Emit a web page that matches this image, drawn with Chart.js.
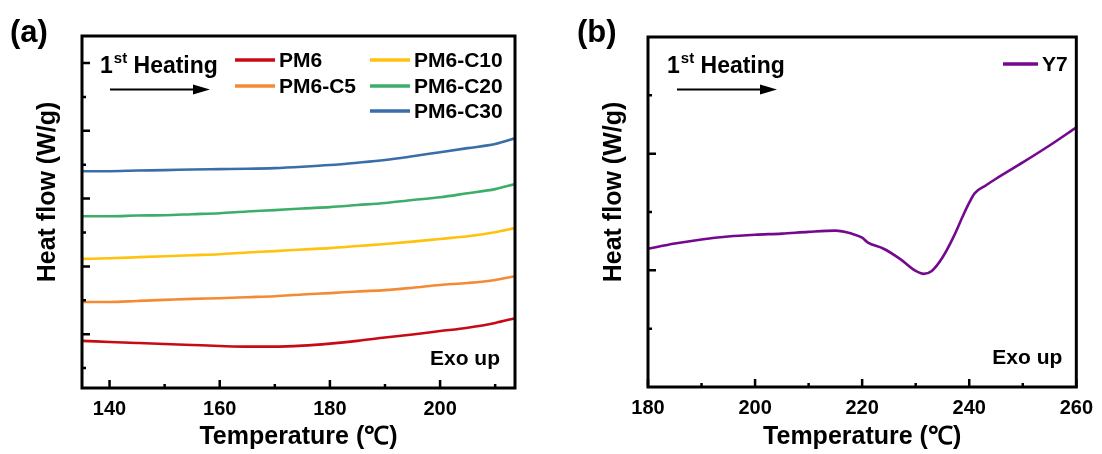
<!DOCTYPE html>
<html>
<head>
<meta charset="utf-8">
<script src="https://cdn.jsdelivr.net/npm/chart.js@4.4.0/dist/chart.umd.min.js"></script>
<style>
  html, body { margin: 0; padding: 0; background: #fff; }
  #wrap { position: relative; width: 1102px; height: 454px; }
  canvas { position: absolute; top: 0; }
</style>
</head>
<body>
<div id="wrap">
  <canvas id="chartA" width="551" height="454" style="left:0"></canvas>
  <canvas id="chartB" width="551" height="454" style="left:551px"></canvas>
</div>
<script>
// ---- data (a) : DSC 1st heating, curves offset vertically
const tempA = [135, 140, 145, 150, 155, 160, 165, 170, 175, 180, 185, 190, 195, 200, 205, 210, 213.6];
const pm6   = [0.80, 0.77, 0.74, 0.71, 0.68, 0.65, 0.63, 0.63, 0.66, 0.72, 0.80, 0.90, 0.99, 1.09, 1.19, 1.33, 1.47];
const pm6c5 = [1.95, 1.95, 1.98, 2.01, 2.04, 2.06, 2.09, 2.12, 2.17, 2.21, 2.26, 2.30, 2.37, 2.45, 2.51, 2.60, 2.71];
const pm6c10 = [3.22, 3.24, 3.27, 3.30, 3.33, 3.36, 3.41, 3.45, 3.50, 3.54, 3.60, 3.66, 3.73, 3.81, 3.89, 4.01, 4.13];
const pm6c20 = [4.48, 4.48, 4.50, 4.51, 4.54, 4.57, 4.62, 4.66, 4.71, 4.75, 4.81, 4.87, 4.96, 5.04, 5.16, 5.28, 5.43];
const pm6c30 = [5.81, 5.81, 5.83, 5.84, 5.86, 5.87, 5.88, 5.90, 5.94, 5.99, 6.06, 6.14, 6.25, 6.37, 6.49, 6.61, 6.78];
const xTicksA = [140, 160, 180, 200];
const xMinorA = [150, 170, 190, 210];
const yMajorA = [1, 3, 5, 7, 9];
const yMinorA = [0, 2, 4, 6, 8];

// ---- data (b) : Y7
const tempB = [180, 185, 190, 195, 200, 205, 210, 215, 218, 220, 221, 224, 227, 230, 231.5, 233, 235, 237, 239, 240, 241, 243, 245, 250, 255, 260];
const y7    = [1.37, 1.46, 1.53, 1.58, 1.61, 1.63, 1.66, 1.68, 1.63, 1.56, 1.48, 1.37, 1.20, 0.99, 0.94, 0.99, 1.22, 1.56, 1.97, 2.16, 2.32, 2.45, 2.57, 2.85, 3.14, 3.45];
const xTicksB = [180, 200, 220, 240, 260];
const xMinorB = [190, 210, 230, 250];
const yMajorB = [1, 3];
const yMinorB = [0, 2, 4];

const FONT = '"Liberation Sans", Arial, sans-serif';

function pts(xs, ys) {
  return xs.map((x, i) => ({ x: x, y: ys[i] }));
}

function line(label, xs, ys, color) {
  return {
    label: label,
    data: pts(xs, ys),
    borderColor: color,
    backgroundColor: color,
    borderWidth: 2.6,
    pointRadius: 0,
    cubicInterpolationMode: 'monotone',
    fill: false
  };
}

// draws the boxed frame, inward ticks, and the annotation texts
const deco = {
  id: 'deco',
  afterDraw(chart, args, o) {
    const ctx = chart.ctx;
    const a = chart.chartArea;
    const x = chart.scales.x, y = chart.scales.y;
    ctx.save();
    ctx.strokeStyle = '#000';
    ctx.fillStyle = '#000';
    ctx.lineWidth = 2.5;
    ctx.beginPath();
    o.xMajor.forEach(v => { const px = x.getPixelForValue(v); ctx.moveTo(px, a.bottom); ctx.lineTo(px, a.bottom - 8); });
    o.xMinor.forEach(v => { const px = x.getPixelForValue(v); ctx.moveTo(px, a.bottom); ctx.lineTo(px, a.bottom - 4); });
    o.yMajor.forEach(v => { const py = y.getPixelForValue(v); ctx.moveTo(a.left, py); ctx.lineTo(a.left + 8, py); });
    o.yMinor.forEach(v => { const py = y.getPixelForValue(v); ctx.moveTo(a.left, py); ctx.lineTo(a.left + 4, py); });
    ctx.stroke();

    ctx.lineWidth = 3;
    ctx.strokeRect(a.left, a.top, a.right - a.left, a.bottom - a.top);

    // panel letter
    ctx.font = 'bold 31px ' + FONT;
    ctx.textBaseline = 'middle';
    ctx.textAlign = 'left';
    ctx.fillText(o.letter, o.letterX, 33);

    // y title
    ctx.save();
    ctx.translate(a.left - 34, 192);
    ctx.rotate(-Math.PI / 2);
    ctx.font = 'bold 25px ' + FONT;
    ctx.textAlign = 'center';
    ctx.fillText('Heat flow (W/g)', 0, 0);
    ctx.restore();

    // 1st Heating + arrow
    ctx.textBaseline = 'alphabetic';
    let hx = a.left + o.headX;
    ctx.font = 'bold 23px ' + FONT;
    ctx.fillText('1', hx, 73);
    hx += ctx.measureText('1').width + 1;
    ctx.font = 'bold 15px ' + FONT;
    ctx.fillText('st', hx, 63);
    hx += ctx.measureText('st').width;
    ctx.font = 'bold 23px ' + FONT;
    ctx.fillText(' Heating', hx, 73);

    const ax0 = a.left + o.arrowX, ax1 = ax0 + 100, ay = 89.5;
    ctx.lineWidth = 1.8;
    ctx.beginPath();
    ctx.moveTo(ax0, ay); ctx.lineTo(ax1 - 14, ay);
    ctx.stroke();
    ctx.beginPath();
    ctx.moveTo(ax1, ay); ctx.lineTo(ax1 - 17, ay - 5); ctx.lineTo(ax1 - 17, ay + 5);
    ctx.closePath();
    ctx.fill();

    // Exo up
    ctx.font = 'bold 21px ' + FONT;
    ctx.textAlign = 'right';
    ctx.textBaseline = 'middle';
    ctx.fillText('Exo up', a.right - o.exoDX, a.bottom - 29);

    // legend
    ctx.textAlign = 'left';
    ctx.font = 'bold 21px ' + FONT;
    o.legend.forEach(it => {
      const ds = chart.data.datasets[it.i];
      const lx = a.left + it.dx, ly = a.top + it.dy;
      ctx.strokeStyle = ds.borderColor;
      ctx.lineWidth = 3.5;
      ctx.beginPath();
      ctx.moveTo(lx, ly); ctx.lineTo(lx + it.len, ly);
      ctx.stroke();
      ctx.fillStyle = '#000';
      ctx.fillText(ds.label, lx + it.len + 4, ly + 1);
    });
    ctx.restore();
  }
};

function makeChart(id, datasets, xr, yr, xTicks, pad, yW, xH, deco_opts) {
  return new Chart(document.getElementById(id), {
    type: 'line',
    data: { datasets: datasets },
    plugins: [deco],
    options: {
      responsive: false,
      animation: false,
      layout: { padding: pad },
      plugins: {
        legend: { display: false },
        tooltip: { enabled: false },
        deco: deco_opts
      },
      scales: {
        x: {
          type: 'linear',
          min: xr[0],
          max: xr[1],
          afterFit: s => { s.height = xH; },
          afterBuildTicks: s => { s.ticks = xTicks.map(v => ({ value: v })); },
          grid: { display: false, drawTicks: false },
          border: { display: false },
          ticks: {
            color: '#000',
            padding: 9,
            font: { family: FONT, size: 20, weight: 'bold' }
          },
          title: {
            display: true,
            text: 'Temperature (℃)',
            color: '#000',
            padding: { top: 0, bottom: 2 },
            font: { family: FONT, size: 25, weight: 'bold' }
          }
        },
        y: {
          type: 'linear',
          min: yr[0],
          max: yr[1],
          afterFit: s => { s.width = yW; },
          grid: { display: false, drawTicks: false },
          border: { display: false },
          ticks: { display: false }
        }
      }
    }
  });
}

makeChart('chartA', [
  line('PM6', tempA, pm6, '#C80A14'),
  line('PM6-C5', tempA, pm6c5, '#F58A35'),
  line('PM6-C10', tempA, pm6c10, '#FFC20E'),
  line('PM6-C20', tempA, pm6c20, '#3DAE6A'),
  line('PM6-C30', tempA, pm6c30, '#3A6EA8')
], [135, 213.6], [-0.59, 9.8], xTicksA,
  { left: 0, top: 36, right: 36, bottom: 0 }, 82, 66,
  {
    letter: '(a)', letterX: 10, headX: 18, arrowX: 28, exoDX: 15,
    xMajor: xTicksA, xMinor: xMinorA, yMajor: yMajorA, yMinor: yMinorA,
    legend: [
      { i: 0, dx: 153, dy: 24, len: 40 },
      { i: 1, dx: 153, dy: 50, len: 40 },
      { i: 2, dx: 288, dy: 24, len: 40 },
      { i: 3, dx: 288, dy: 50, len: 40 },
      { i: 4, dx: 288, dy: 75, len: 40 }
    ]
  });

makeChart('chartB', [
  line('Y7', tempB, y7, '#74088F')
], [180, 260], [-1, 5], xTicksB,
  { left: 0, top: 37, right: 21, bottom: 0 }, 97, 67,
  {
    letter: '(b)', letterX: 26, headX: 19, arrowX: 29, exoDX: 14,
    xMajor: xTicksB, xMinor: xMinorB, yMajor: yMajorB, yMinor: yMinorB,
    legend: [
      { i: 0, dx: 355, dy: 27, len: 35 }
    ]
  });
</script>
</body>
</html>
